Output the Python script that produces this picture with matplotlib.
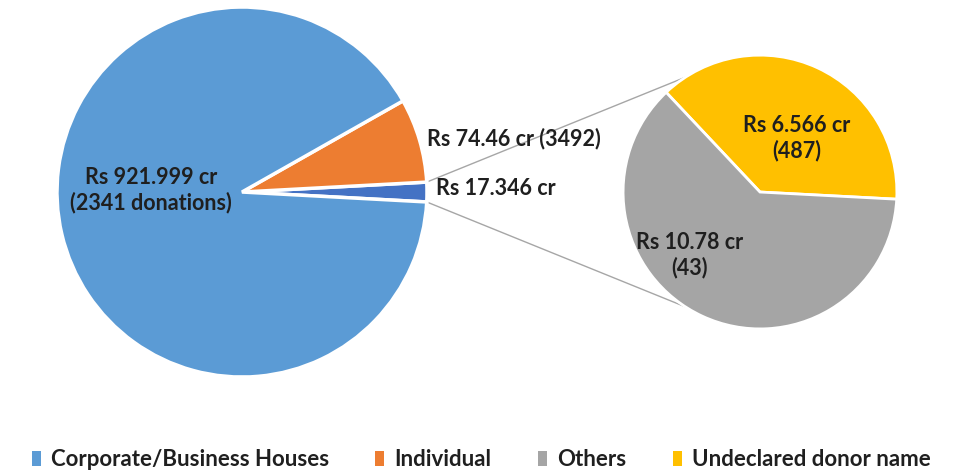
import numpy as np
import matplotlib.pyplot as plt
from matplotlib.patches import Patch

categories = ['Corporate/Business Houses', 'Individual', 'Others', 'Undeclared donor name']
amounts = [921.999, 74.46, 10.78, 6.566]
donations = [2341, 3492, 43, 487]
colors = ['#5B9BD5', '#ED7D31', '#A5A5A5', '#FFC000']
combined_color = '#4472C4'

plt.rcParams['font.family'] = ['Lato', 'DejaVu Sans']
text_color = '#1f1f1f'

fig = plt.figure(figsize=(9.62, 4.76), dpi=100)
ax = fig.add_axes([0, 0, 1, 1])

# main pie: combined small slice centred on the right-hand side
combined = amounts[2] + amounts[3]
main_vals = [combined, amounts[1], amounts[0]]
total = sum(main_vals)
start = -combined / total * 360 / 2
main_wedges, _ = ax.pie(main_vals, colors=[combined_color, colors[1], colors[0]],
                        startangle=start, center=(0, 0), radius=1.0,
                        wedgeprops=dict(edgecolor='white', linewidth=2.5))

# secondary pie
sec_center = (2.80, 0.0)
sec_r = 0.74
sec_wedges, _ = ax.pie([amounts[3], amounts[2]], colors=[colors[3], colors[2]],
                       startangle=-3, center=sec_center, radius=sec_r,
                       wedgeprops=dict(edgecolor='white', linewidth=2))

# connector lines
w = main_wedges[0]
for th1, th2 in [(w.theta2, 123), (w.theta1, -123)]:
    x0, y0 = np.cos(np.radians(th1)), np.sin(np.radians(th1))
    x1 = sec_center[0] + sec_r * np.cos(np.radians(th2))
    y1 = sec_center[1] + sec_r * np.sin(np.radians(th2))
    ax.plot([x0, x1], [y0, y1], color='#A6A6A6', lw=1, zorder=0)

kw = dict(fontsize=15.5, fontweight='bold', color=text_color)
ax.text(-0.49, 0.01, f"Rs {amounts[0]:g} cr\n({donations[0]} donations)",
        ha='center', va='center', linespacing=1.2, **kw)
ax.text(1.0, 0.29, f"Rs {amounts[1]:g} cr ({donations[1]})", ha='left', va='center', **kw)
ax.text(1.05, 0.02, f"Rs {round(combined, 3):g} cr", ha='left', va='center', **kw)
ax.text(3.0, 0.29, f"Rs {amounts[3]:g} cr\n({donations[3]})",
        ha='center', va='center', linespacing=1.2, **kw)
ax.text(2.42, -0.34, f"Rs {amounts[2]:g} cr\n({donations[2]})",
        ha='center', va='center', linespacing=1.2, **kw)

ax.set_xlim(-1.308, 3.892)
ax.set_ylim(-1.535, 1.038)
ax.set_aspect('auto')
ax.axis('off')

handles = [Patch(facecolor=c, edgecolor='none') for c in colors]
leg = fig.legend(handles, categories, loc='center', bbox_to_anchor=(0.5, 0.034),
                 ncol=4, frameon=False, handlelength=0.4, handleheight=0.6,
                 handletextpad=0.45, columnspacing=2.1,
                 prop=dict(size=16, weight='bold'))
for t in leg.get_texts():
    t.set_color(text_color)

fig.savefig('out.png', dpi=100)
